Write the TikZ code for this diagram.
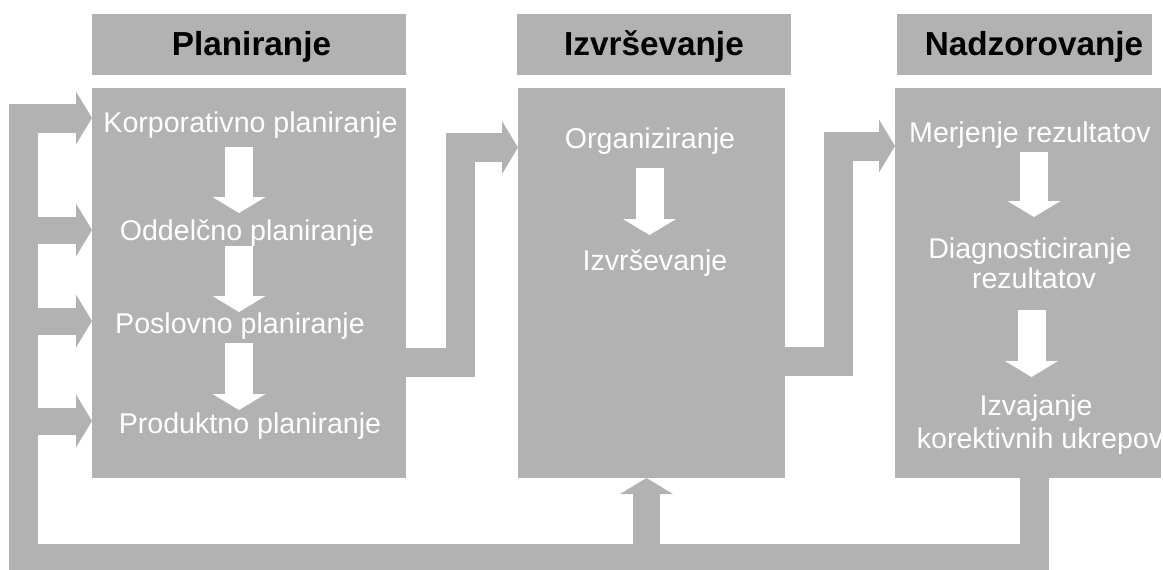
\documentclass[tikz,border=0pt]{standalone}
\usepackage{fontspec}
\setmainfont{Liberation Sans}
\usetikzlibrary{arrows.meta,calc}
\definecolor{panel}{HTML}{B2B2B2}
\tikzset{
  panelbox/.style={fill=panel, draw=none, inner sep=0pt, outer sep=0pt},
  steplabel/.style={text=white, font=\fontsize{28.6}{31}\selectfont, inner sep=0pt, outer sep=0pt,
                    text height=20pt, text depth=6pt, anchor=base},
  headlabel/.style={text=black, font=\bfseries\fontsize{33.3}{37}\selectfont, inner sep=0pt, anchor=base},
  fatline/.style={draw=panel, line width=29pt, line join=miter, line cap=butt},
  fatflow/.style={fatline, -{Triangle[width=53pt,length=16pt,line width=0pt]}},
  stepdown/.style={draw=white, line width=28pt, line cap=butt,
                   -{Triangle[width=53pt,length=16pt,line width=0pt]}},
}
\begin{document}
\begin{tikzpicture}[x=1pt,y=-1pt]
  \useasboundingbox (0,0) rectangle (1163,570);
  \clip (0,0) rectangle (1163,570);

  % column headers
  \node[panelbox, minimum width=314pt, minimum height=61pt] (planhead) at (249,44.5) {};
  \node[panelbox, minimum width=274pt, minimum height=61pt] (exechead) at (654,44.5) {};
  \node[panelbox, minimum width=255pt, minimum height=61pt] (nadzhead) at (1024.5,44.5) {};
  \node[headlabel] (tplan) at (251.5,55) {Planiranje};
  \node[headlabel] (texec) at (654,55) {Izvrševanje};
  \node[headlabel] (tnadz) at (1034,55) {Nadzorovanje};

  % column bodies
  \node[panelbox, minimum width=314pt, minimum height=390pt] (plan) at (249,283) {};
  \node[panelbox, minimum width=267pt, minimum height=390pt] (exec) at (651.5,283) {};
  \node[panelbox, minimum width=266pt, minimum height=390pt] (nadz) at (1028,283) {};

  % texts of the steps
  \node[steplabel] (korp) at (250.5,132) {Korporativno planiranje};
  \node[steplabel] (odd)  at (247,240)   {Oddelčno planiranje};
  \node[steplabel] (posl) at (240,333)   {Poslovno planiranje};
  \node[steplabel] (prod) at (250,433)   {Produktno planiranje};
  \node[steplabel] (org)  at (650,148)   {Organiziranje};
  \node[steplabel] (izv)  at (655,270)   {Izvrševanje};
  \node[steplabel] (merj) at (1030,142)  {Merjenje rezultatov};
  \node[steplabel] (diag) at (1030,258)  {Diagnosticiranje};
  \node[steplabel] (diagb) at (1034,288) {rezultatov};
  \node[steplabel] (izva) at (1036,415)  {Izvajanje};
  \node[steplabel] (izvab) at (1040,448) {korektivnih ukrepov};

  % columns of the white step arrows
  \coordinate (pcol) at (239,0);
  \coordinate (ecol) at (649.5,0);
  \coordinate (ncol) at (1034,0);
  \coordinate (ncolb) at (1031.5,0);

  \draw[stepdown, shorten <=9pt, shorten >=7pt]  (korp.south -| pcol) -- (odd.north -| pcol);
  \draw[stepdown, shorten <=0pt, shorten >=1pt]  (odd.south -| pcol)  -- (posl.north -| pcol);
  \draw[stepdown, shorten <=4pt, shorten >=3pt]  (posl.south -| pcol) -- (prod.north -| pcol);
  \draw[stepdown, shorten <=14pt, shorten >=15pt] (org.south -| ecol) -- (izv.north -| ecol);
  \draw[stepdown, shorten <=4pt, shorten >=21pt] (merj.south -| ncol) -- (diag.north -| ncol);
  \draw[stepdown, shorten <=16pt, shorten >=18pt] (diagb.south -| ncolb) -- (izva.north -| ncolb);

  % flow between the columns
  \draw[fatflow] (plan.east |- 0,362.5) -| (460.5,147.5) -- (exec.west |- 0,147.5);
  \draw[fatflow] (exec.east |- 0,361) -| (838,146) -- (nadz.west |- 0,146);

  % feedback loop back to planning and execution
  \coordinate (rail) at (23.5,0);
  \draw[fatflow] (nadz.south -| 1034,0) |- (rail |- 0,558.5) |- (plan.west |- 0,118);
  \draw[fatflow, line width=27pt] (rail |- 0,230) -- (plan.west |- 0,230);
  \draw[fatflow, line width=27pt] (rail |- 0,321) -- (plan.west |- 0,321);
  \draw[fatflow, line width=27pt] (rail |- 0,421) -- (plan.west |- 0,421);
  \draw[fatflow, line width=27pt] (646.5,558.5) -- (exec.south -| 646.5,0);
\end{tikzpicture}
\end{document}
